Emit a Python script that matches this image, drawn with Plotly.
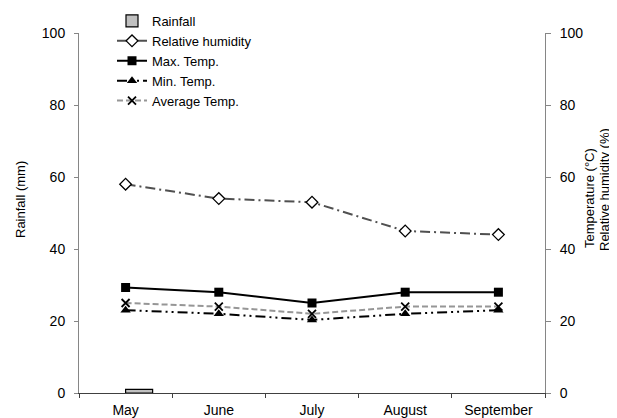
import plotly.graph_objects as go

months = ["May", "June", "July", "August", "September"]
rainfall = [1, 0, 0, 0, 0]
rel_humidity = [58, 54, 53, 45, 44]
max_temp = [29.3, 28, 25, 28, 28]
min_temp = [23, 22, 20.3, 22, 23]
avg_temp = [25, 24, 22, 24, 24]

FONT = "Liberation Sans, Arial, sans-serif"

fig = go.Figure()
fig.add_trace(go.Bar(
    x=months, y=[v if v else None for v in rainfall], name="Rainfall", yaxis="y",
    marker=dict(color="#c0c0c0", line=dict(color="black", width=1.2)),
    width=0.29, offset=0,
))
fig.add_trace(go.Scatter(
    x=months, y=rel_humidity, name="Relative humidity", yaxis="y2",
    mode="lines+markers",
    line=dict(color="#505050", width=2, dash="10px,4px,2px,4px"),
    marker=dict(symbol="diamond", size=9, color="white", line=dict(color="black", width=1.3)),
))
fig.add_trace(go.Scatter(
    x=months, y=max_temp, name="Max. Temp.", yaxis="y2",
    mode="lines+markers",
    line=dict(color="black", width=2),
    marker=dict(symbol="square", size=9, color="black"),
))
fig.add_trace(go.Scatter(
    x=months, y=min_temp, name="Min. Temp.", yaxis="y2",
    mode="lines+markers",
    line=dict(color="black", width=2, dash="10px,4px,2px,4px,2px,4px"),
    marker=dict(symbol="triangle-up", size=9, color="black"),
))
fig.add_trace(go.Scatter(
    x=months, y=avg_temp, name="Average Temp.", yaxis="y2",
    mode="lines+markers",
    line=dict(color="#969696", width=2, dash="6px,3px"),
    marker=dict(symbol="x-thin-open", size=8, color="black", line=dict(color="#202020", width=1.8)),
))

# page body has an 8px margin; work in screen pixels and convert
OFF = 8
W, H = 617 - OFF, 418 - OFF
L = 79 - OFF
T = 33 - OFF
R = W - (545 - OFF)
B = H - (393 - OFF)
pw, ph = W - L - R, H - T - B

def px2x(px):
    return (px - OFF - L) / pw

def py2y(py):
    return (H - B - (py - OFF)) / ph

fig.update_layout(
    width=W, height=H,
    margin=dict(l=L, r=R, t=T, b=B, pad=0, autoexpand=False),
    paper_bgcolor="white", plot_bgcolor="white",
    font=dict(family=FONT, size=14, color="black"),
    showlegend=True,
    legend=dict(
        x=px2x(112), y=py2y(6), xanchor="left", yanchor="top",
        bgcolor="rgba(0,0,0,0)", font=dict(size=13),
        tracegroupgap=0, itemwidth=30,
    ),
    xaxis=dict(
        type="category", range=[-0.5, 4.5],
        showline=True, linecolor="#404040", linewidth=1,
        ticks="outside", ticklen=4, tickcolor="#404040", tickson="boundaries",
        ticklabelstandoff=4,
        showgrid=False, zeroline=False, tickfont=dict(size=14),
    ),
    yaxis=dict(
        range=[0, 100], tickvals=[0, 20, 40, 60, 80, 100],
        showline=True, linecolor="#868686", linewidth=1,
        ticks="outside", ticklen=4, tickcolor="#868686",
        ticklabelstandoff=6,
        showgrid=False, zeroline=False, tickfont=dict(size=14),
    ),
    yaxis2=dict(
        range=[0, 100], tickvals=[0, 20, 40, 60, 80, 100],
        overlaying="y", side="right",
        showline=True, linecolor="#868686", linewidth=1,
        ticks="outside", ticklen=5, tickcolor="#868686",
        ticklabelstandoff=6,
        showgrid=False, zeroline=False, tickfont=dict(size=14),
    ),
    annotations=[
        dict(text="Rainfall (mm)", xref="paper", yref="paper",
             x=px2x(20), y=py2y(200), textangle=-90, showarrow=False,
             font=dict(size=13), xanchor="center", yanchor="middle"),
        dict(text="Temperature (°C)", xref="paper", yref="paper",
             x=px2x(589), y=py2y(198), textangle=-90, showarrow=False,
             font=dict(size=13), xanchor="center", yanchor="middle"),
        dict(text="Relative humidity (%)", xref="paper", yref="paper",
             x=px2x(604), y=py2y(190), textangle=-90, showarrow=False,
             font=dict(size=13), xanchor="center", yanchor="middle"),
    ],
)

fig.write_html("out.html")
